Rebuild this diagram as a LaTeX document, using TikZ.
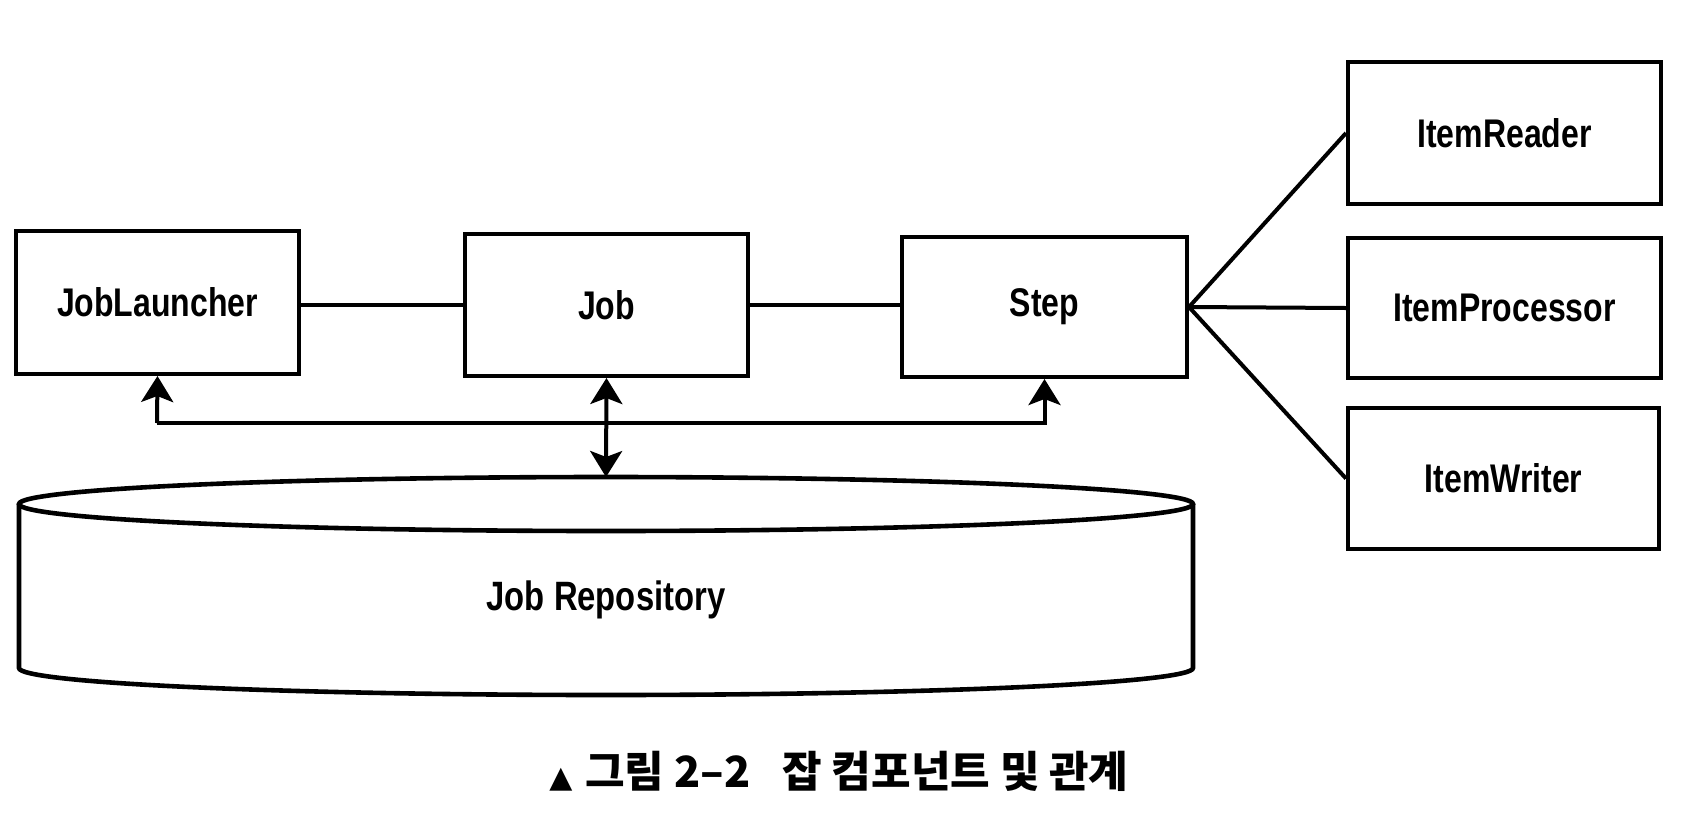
\documentclass[tikz,border=0pt]{standalone}
\usepackage{fontspec}
\setmainfont{Liberation Sans}
\newfontfamily\lab{Liberation Sans}[FakeStretch=0.8]
\newfontfamily\kr{Noto Sans CJK KR}
\newfontfamily\dv{DejaVu Sans}
\usetikzlibrary{arrows.meta}
\begin{document}
\begin{tikzpicture}[x=0.5pt,y=-0.5pt, line width=2pt,
  >={Stealth[length=13pt,width=16pt,inset=3pt]},
  box/.style={draw, line width=2pt, inner sep=0pt, font=\lab\bfseries\fontsize{20}{22}\selectfont},
  lbl/.style={inner sep=0pt, font=\lab\bfseries\fontsize{20.5}{22}\selectfont},
  cyl/.style={line width=2.3pt}
]
\useasboundingbox (0,0) rectangle (1688,826);

% boxes
\node[box, minimum width=141.5pt, minimum height=71.5pt] (jl) at (157.5,302.5) {JobLauncher};
\node[box, minimum width=141.5pt, minimum height=71pt] (job) at (606.5,305) {Job};
\node[box, minimum width=142.5pt, minimum height=70pt] (step) at (1044.5,307) {Step};
\node[box, minimum width=156.5pt, minimum height=71pt] (ir) at (1504.5,133) {ItemReader};
\node[box, minimum width=156.5pt, minimum height=70pt] (ip) at (1504.5,308) {ItemProcessor};
\node[box, minimum width=155.5pt, minimum height=70.5pt] (iw) at (1503.5,478.5) {ItemWriter};

% horizontal links
\draw (job.west -| jl.east) -- (job.west);
\draw (job.east) -- (job.east -| step.west);
\draw (step.east) -- (ir.west);
\draw (step.east) -- (ip.west);
\draw (step.east) -- (iw.west);

% repository cylinder
\draw[cyl] (606,504) ellipse [x radius=587, y radius=27];
\draw[cyl] (19,504) -- (19,668) arc[start angle=180, end angle=0, x radius=587, y radius=27] -- (1193,504);
\node[lbl] (repo) at (606,600) {Job Repository};
\coordinate (rtop) at (606,477);

% bus and arrows
\coordinate (bl) at (157,423);
\coordinate (br) at (1044.5,423);
\draw[->] (bl) -- (jl.south);
\draw[->] (bl) -- (br) -- (step.south);
\draw[<->] (job.south) -- (rtop);

% caption
\node[inner sep=0pt, font=\kr\bfseries\fontsize{21.5}{26}\selectfont] (cap) at (839,771)
  {{\dv\fontsize{15}{16}\selectfont ▲}\hspace{0.3em}그림 2–2\hspace{0.75em}잡 컴포넌트 및 관계};
\end{tikzpicture}
\end{document}
